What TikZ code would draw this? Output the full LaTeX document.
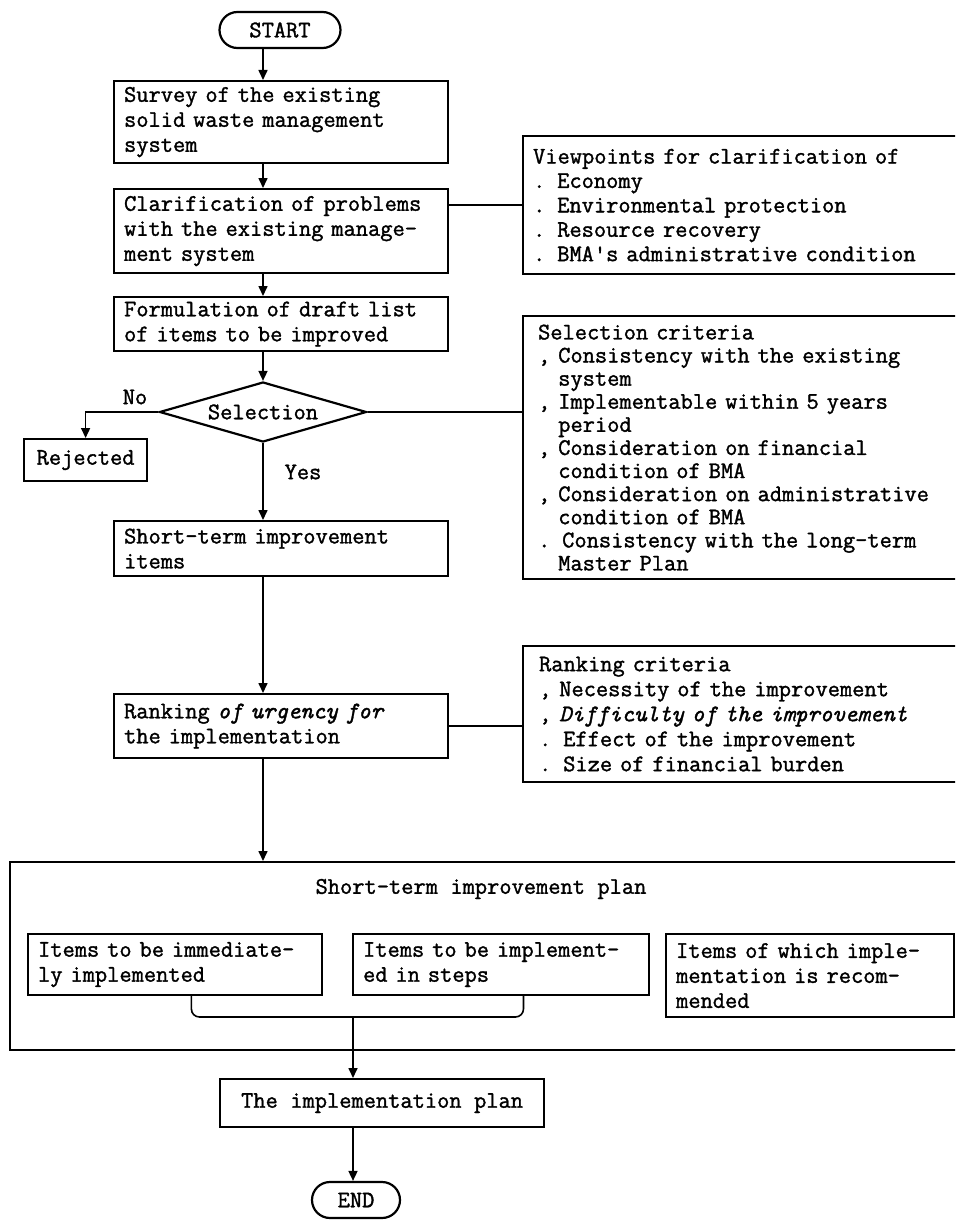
\documentclass[tikz,border=0pt]{standalone}
\usepackage{fontspec}
\setmonofont{Latin Modern Mono}[FakeBold=1.4]
\usetikzlibrary{arrows.meta,shapes.geometric,calc}
\newcommand{\typeface}[1]{\ttfamily\fontsize{11.88pt}{#1}\selectfont\spaceskip=6.24pt\relax\xspaceskip=6.24pt\relax}
\begin{document}
\begin{tikzpicture}[x=0.5pt,y=-0.5pt,
  every node/.style={font=\typeface{12.5pt}},
  box/.style={draw, line width=1.1pt, anchor=north west, inner xsep=5pt, inner ysep=0pt, align=left},
  cbox/.style={draw, line width=1.1pt, anchor=north west, inner sep=0pt, align=center},
  term/.style={draw, line width=1.1pt, rounded corners=9pt, inner sep=0pt, minimum height=18pt},
  decision/.style={draw, line width=1.1pt, shape=diamond, aspect=3.4, inner sep=0pt},
  conn/.style={line width=0.8pt},
  arr/.style={conn, -{Triangle[length=5pt,width=4.5pt]}},
  lbl/.style={inner sep=0pt}
]
\useasboundingbox (0,0) rectangle (955,1220);
\fill[white] (0,0) rectangle (955,1220);
\clip (0,0) rectangle (955,1220);

% main column
\node[term, minimum width=60.5pt] (start) at (280,30) {START};
\node[box, minimum width=167pt, minimum height=41pt, text width=157pt] (survey) at (113,80)
  {Survey of the existing\\solid waste management\\system};
\node[box, minimum width=167pt, minimum height=42pt, text width=157pt] (clar) at (113,188)
  {Clarification of problems\\with the existing manage-\\ment system};
\node[box, minimum width=167pt, minimum height=27pt, text width=157pt] (form) at (113,296)
  {Formulation of draft list\\of items to be improved};
\node[decision, minimum width=103.5pt, minimum height=30pt] (sel) at (263,412) {Selection};
\node[cbox, minimum width=61.5pt, minimum height=21pt] (rej) at (23,438) {Rejected};
\node[box, minimum width=167pt, minimum height=27.5pt, text width=157pt] (items) at (113,520)
  {Short-term improvement\\items};
\node[box, minimum width=167pt, minimum height=32pt, text width=157pt] (rank) at (113,693)
  {Ranking \textit{of urgency for}\\the implementation};

% criteria boxes on the right
\node[box, font=\typeface{12.2pt}, minimum width=234pt, minimum height=69pt, text width=224pt] (view) at (522,135)
  {Viewpoints for clarification of\\. Economy\\. Environmental protection\\. Resource recovery\\. BMA's administrative condition};
\node[box, font=\typeface{11.55pt}, inner xsep=7.5pt, minimum width=234pt, minimum height=131.5pt, text width=219pt] (selcrit) at (522,315)
  {Selection criteria\\, Consistency with the existing\\\hphantom{, }system\\, Implementable within 5 years\\\hphantom{, }period\\, Consideration on financial\\\hphantom{, }condition of BMA\\, Consideration on administrative\\\hphantom{, }condition of BMA\\. Consistency with the long-term\\\hphantom{, }Master Plan};
\node[box, inner xsep=8pt, minimum width=234pt, minimum height=68pt, text width=218pt] (rcrit) at (522,645)
  {Ranking criteria\\, Necessity of the improvement\\, \textit{Difficulty of the improvement}\\. Effect of the improvement\\. Size of financial burden};

% short-term improvement plan
\node[box, minimum width=490.5pt, minimum height=94pt] (plan) at (9,861) {};
\node[lbl] (plantitle) at (481,889) {Short-term improvement plan};
\node[box, minimum width=147pt, minimum height=30.5pt, text width=137pt] (b1) at (27,933)
  {Items to be immediate-\\ly implemented};
\node[box, minimum width=145pt, minimum height=30.5pt, text width=138pt] (b2) at (352,933)
  {Items to be implement-\\ed in steps};
\node[box, minimum width=144pt, minimum height=41.5pt, text width=134pt] (b3) at (665,933)
  {Items of which imple-\\mentation is recom-\\mended};

\node[cbox, minimum width=162pt, minimum height=24pt] (impl) at (219,1078) {The implementation plan};
\node[term, minimum width=44pt] (end) at (356,1200) {END};

% connectors
\coordinate (spine) at (263,0);
\draw[arr] (start.south -| spine) -- (survey.north -| spine);
\draw[arr] (survey.south -| spine) -- (clar.north -| spine);
\draw[arr] (clar.south -| spine) -- (form.north -| spine);
\draw[arr] (form.south -| spine) -- (sel.north);
\draw[arr] (sel.west) -| (rej.north);
\draw[arr] (sel.south) -- (items.north -| sel.south);
\draw[arr] (items.south -| spine) -- (rank.north -| spine);
\draw[arr] (rank.south -| spine) -- (plan.north -| spine);
\node[lbl] (no) at (135,397) {No};
\node[lbl] (yes) at (303,472) {Yes};

\coordinate (cv) at ($(clar.north east)!0.2!(clar.south east)$);
\draw[conn] (cv) -- (cv -| view.west);
\draw[conn] (sel.east) -- (sel.east -| selcrit.west);
\draw[conn] (rank.east) -- (rank.east -| rcrit.west);

% bracket joining the first two item groups
\coordinate (bl) at ($(b1.south west)!0.555!(b1.south east)$);
\coordinate (br) at ($(b2.south west)!0.575!(b2.south east)$);
\coordinate (bj) at (353,1017);
\draw[conn, rounded corners=4pt] (bl) -- (bl |- bj) -- (br |- bj) -- (br);
\draw[arr] (bj) -- (impl.north -| bj);
\draw[arr] (impl.south -| bj) -- (end.north -| bj);
\end{tikzpicture}
\end{document}
